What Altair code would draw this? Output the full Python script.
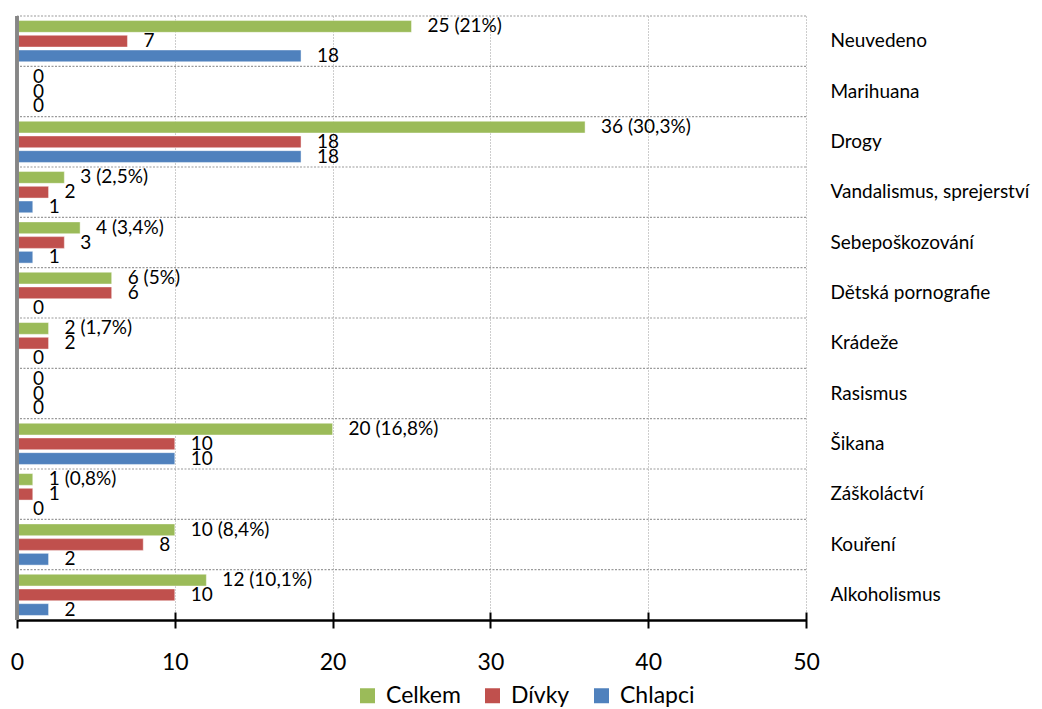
import altair as alt
import pandas as pd

cats = ["Neuvedeno", "Marihuana", "Drogy", "Vandalismus, sprejerství", "Sebepoškozování",
        "Dětská pornografie", "Krádeže", "Rasismus", "Šikana", "Záškoláctví", "Kouření", "Alkoholismus"]
series = ["Celkem", "Dívky", "Chlapci"]
celkem = [25, 0, 36, 3, 4, 6, 2, 0, 20, 1, 10, 12]
divky = [7, 0, 18, 2, 3, 6, 2, 0, 10, 1, 8, 10]
chlapci = [18, 0, 18, 1, 1, 0, 0, 0, 10, 0, 2, 2]
celkem_pct = ["21%", "", "30,3%", "2,5%", "3,4%", "5%", "1,7%", "", "16,8%", "0,8%", "8,4%", "10,1%"]
colors = ["#9BBB59", "#C0504D", "#4F81BD"]
x_ticks = [0, 10, 20, 30, 40, 50]

rows = []
for i, c in enumerate(cats):
    for s, vals in zip(series, [celkem, divky, chlapci]):
        v = vals[i]
        lab = str(v)
        if s == "Celkem" and celkem_pct[i]:
            lab = f"{v} ({celkem_pct[i]})"
        rows.append({"cat": c, "series": s, "value": v, "label": lab})
df = pd.DataFrame(rows)
cat_df = pd.DataFrame({"cat": cats})

FONT = "Lato"

yscale = alt.Scale(paddingInner=0, paddingOuter=0)
yoff = alt.YOffset("series:N", sort=series, scale=alt.Scale(paddingInner=0.2, paddingOuter=0.31))
xscale = alt.Scale(domain=[0, 50], nice=False)

y_axis = alt.Axis(orient="right", domain=False, ticks=False, grid=False,
                  labelAlign="left", labelPadding=24, labelFontSize=19,
                  labelFont=FONT, labelColor="black", labelLimit=300)

bars = alt.Chart(df).mark_bar(stroke="white", strokeWidth=0.8, strokeOpacity=0.55).encode(
    x=alt.X("value:Q", scale=xscale, title=None,
            axis=alt.Axis(orient="bottom", values=x_ticks, grid=True, gridDash=[1, 2],
                          gridColor="#9a9a9a", gridWidth=1, domain=True, domainColor="black",
                          domainWidth=2.5, ticks=False, labelFontSize=23, labelFont=FONT,
                          labelColor="black", labelPadding=42, labelBaseline="middle",
                          labelFlush=False)),
    y=alt.Y("cat:N", sort=cats, scale=yscale, title=None, axis=y_axis),
    yOffset=yoff,
    color=alt.Color("series:N", sort=series, scale=alt.Scale(domain=series, range=colors),
                    legend=alt.Legend(title=None, orient="none", direction="horizontal",
                                      legendX=339, legendY=668, symbolType="square",
                                      symbolSize=225, symbolStrokeWidth=0, labelFontSize=23,
                                      labelFont=FONT, labelColor="black", labelOffset=7,
                                      columnPadding=20)),
)

texts = alt.Chart(df).mark_text(align="left", baseline="middle", dx=16, fontSize=19,
                                font=FONT, color="black").encode(
    x=alt.X("value:Q", scale=xscale, axis=None),
    y=alt.Y("cat:N", sort=cats, scale=yscale, title=None, axis=y_axis),
    yOffset=yoff,
    text="label:N",
)

hgrid = alt.Chart(cat_df).mark_rule(color="#9a9a9a", strokeDash=[2, 1.5], strokeWidth=1.2).encode(
    y=alt.Y("cat:N", sort=cats, scale=yscale, bandPosition=0, title=None, axis=y_axis),
)

left_line = alt.Chart(cat_df).mark_rule(color="#868686", strokeWidth=2.5).encode(
    x=alt.X(datum=0, scale=xscale,
            axis=alt.Axis(orient="bottom", values=x_ticks, offset=-8, domain=False,
                          labels=False, grid=False, ticks=True, tickSize=16, tickWidth=2,
                          tickColor="black", title=None)),
)

chart = alt.layer(bars, hgrid, texts, left_line).resolve_axis(x="independent").properties(
    width=789, height=604,
    autosize=alt.AutoSizeParams(type="none"),
    padding={"left": 9, "top": 8, "right": 228, "bottom": 88},
).configure_view(stroke=None)

chart.save("out.html", embed_options={"renderer": "svg", "actions": False})
